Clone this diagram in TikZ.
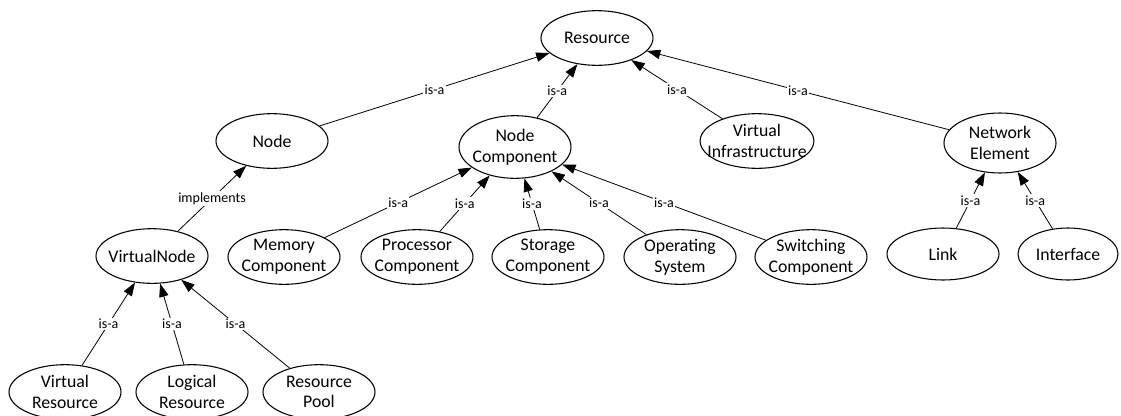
\documentclass[tikz,border=0pt]{standalone}
\usepackage{fontspec}
\setmainfont{Carlito}
\usetikzlibrary{shapes,arrows.meta}
\tikzstyle{concept} = [draw, ellipse, line width=0.8pt, minimum width=84pt, minimum height=41pt, inner xsep=-7pt, inner ysep=-1pt, align=center, font=\fontsize{13.3}{15.5}\selectfont]
\tikzstyle{isa} = [-{Triangle[length=10pt,width=7pt]}, line width=0.6pt]
\tikzstyle{rel} = [fill=white, inner sep=1pt, font=\fontsize{10.5}{12}\selectfont]

\begin{document}
\begin{tikzpicture}[x=0.75pt,y=-0.75pt]
	\useasboundingbox (0,0) rectangle (1121,415);
	\node[concept] (res) at (597,38) {Resource};
	\node[concept] (nd) at (272,141) {Node};
	\node[concept, minimum height=47pt] (ncomp) at (515,147) {Node\\Component};
	\node[concept] (vinfra) at (757,141) {Virtual\\Infrastructure};
	\node[concept, minimum height=45pt] (netel) at (1000,143) {Network\\Element};
	\node[concept] (vnode) at (152,256) {VirtualNode};
	\node[concept] (memc) at (284,257) {Memory\\Component};
	\node[concept] (procc) at (417,257) {Processor\\Component};
	\node[concept] (storc) at (548,257) {Storage\\Component};
	\node[concept] (opsys) at (680,257) {Operating\\System};
	\node[concept] (switc) at (811,257) {Switching\\Component};
	\node[concept, minimum height=39pt] (link) at (943,254) {Link};
	\node[concept, minimum width=75pt, minimum height=39pt] (iface) at (1068,254) {Interface};
	\node[concept] (vres) at (65,392) {Virtual\\Resource};
	\node[concept] (lres) at (192,392) {Logical\\Resource};
	\node[concept] (rpool) at (319,392) {Resource\\Pool};
	\draw[isa] (nd) -- node[rel] {is-a} (res);
	\draw[isa] (ncomp) -- node[rel] {is-a} (res);
	\draw[isa] (vinfra) -- node[rel] {is-a} (res);
	\draw[isa] (netel) -- node[rel] {is-a} (res);
	\draw[isa] (vnode) -- node[rel] {implements} (nd);
	\draw[isa] (memc) -- node[rel] {is-a} (ncomp);
	\draw[isa] (procc) -- node[rel] {is-a} (ncomp);
	\draw[isa] (storc) -- node[rel] {is-a} (ncomp);
	\draw[isa] (opsys) -- node[rel] {is-a} (ncomp);
	\draw[isa] (switc) -- node[rel] {is-a} (ncomp);
	\draw[isa] (link) -- node[rel] {is-a} (netel);
	\draw[isa] (iface) -- node[rel] {is-a} (netel);
	\draw[isa] (vres) -- node[rel] {is-a} (vnode);
	\draw[isa] (lres) -- node[rel] {is-a} (vnode);
	\draw[isa] (rpool) -- node[rel] {is-a} (vnode);
\end{tikzpicture}
\end{document}
